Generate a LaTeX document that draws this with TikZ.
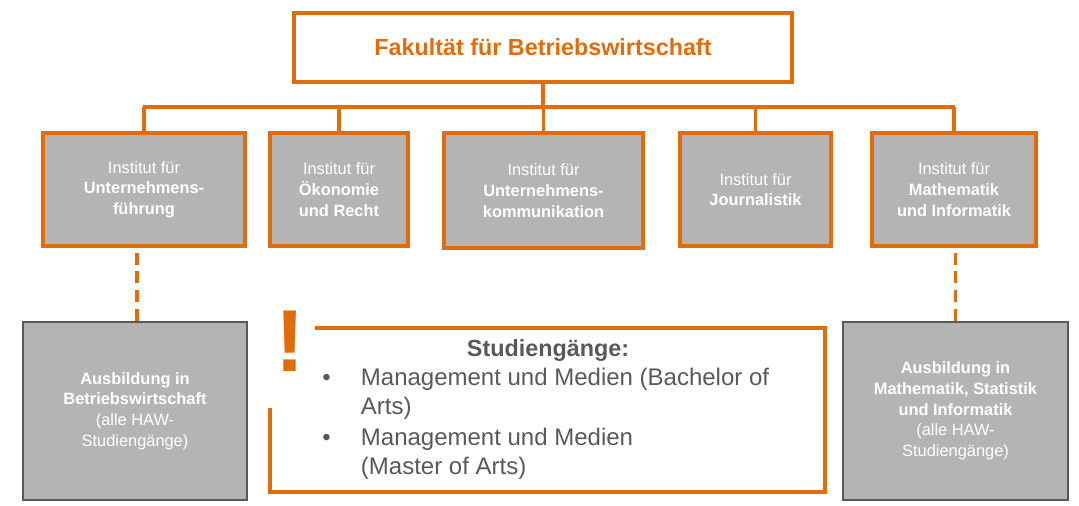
\documentclass[tikz,border=0pt]{standalone}
\usepackage{fontspec}
\setmainfont{Liberation Sans}
\usetikzlibrary{positioning}
\definecolor{hawOrange}{HTML}{E36C0A}
\definecolor{hawGray}{HTML}{B4B4B4}
\definecolor{hawText}{HTML}{595959}
\tikzset{
  institut/.style={draw=hawOrange, line width=2.4pt, fill=hawGray, text=white, align=center, font=\fontsize{12.3}{15.5}\selectfont, inner sep=0pt},
  ausbildung/.style={draw=hawText, line width=1.8pt, fill=hawGray, text=white, align=center, font=\fontsize{12.3}{15.5}\selectfont, inner sep=0pt},
  bus/.style={draw=hawOrange, line width=2.8pt},
}
\begin{document}
\begin{tikzpicture}[x=0.75pt,y=-0.75pt]
			\useasboundingbox (0,0) rectangle (1079,506);
			% Fakultaet
			\node[draw=hawOrange, line width=2.4pt, fill=white, minimum width=373.5pt, minimum height=51.75pt, text=hawOrange, font=\fontsize{17.5}{20}\selectfont\bfseries] (fak) at (543,47.5) {Fakultät für Betriebswirtschaft};

			% Institute
			\node[institut, minimum width=151.5pt, minimum height=84.75pt] (inst1) at (144,189.5) {Institut für\\\textbf{Unternehmens-}\\\textbf{führung}};
			\node[institut, minimum width=103.5pt, minimum height=84.75pt] (inst2) at (339,189.5) {Institut für\\\textbf{Ökonomie}\\\textbf{und Recht}};
			\node[institut, minimum width=149.25pt, minimum height=86.25pt] (inst3) at (543.5,190.5) {Institut für\\\textbf{Unternehmens-}\\\textbf{kommunikation}};
			\node[institut, minimum width=113.25pt, minimum height=84.75pt] (inst4) at (755.5,189.5) {Institut für\\\textbf{Journalistik}};
			\node[institut, minimum width=123pt, minimum height=84.75pt] (inst5) at (954,189.5) {Institut für\\\textbf{Mathematik}\\\textbf{und Informatik}};

			% Verbindungen
			\coordinate (busL) at (143,107);
			\coordinate (busR) at (955,107);
			\draw[bus] (busL) -- (busR);
			\draw[bus] (fak.south) -- (fak.south |- busL);
			\foreach \i in {1,...,5}
				\draw[bus] (inst\i.north |- busL) -- (inst\i.north);

			% Ausbildung
			\node[ausbildung, minimum width=168pt, minimum height=133.5pt] (ausb1) at (135,411) {\textbf{Ausbildung in}\\\textbf{Betriebswirtschaft}\\(alle HAW-\\Studiengänge)};
			\node[ausbildung, minimum width=168.75pt, minimum height=133.5pt] (ausb2) at (955.5,411) {\textbf{Ausbildung in}\\\textbf{Mathematik, Statistik}\\\textbf{und Informatik}\\(alle HAW-\\Studiengänge)};
			\draw[bus, dash pattern=on 9pt off 5pt] (ausb1.north -| 137,0) -- (137,246);
			\draw[bus, dash pattern=on 9pt off 5pt] (ausb2.north) -- (inst5.south -| ausb2.north);

			% Studiengaenge
			\draw[draw=hawOrange, line width=2.4pt] (315,328) -- (825,328) -- (825,492) -- (270,492) -- (270,408);
			\node[text=hawOrange, font=\fontsize{66}{68}\selectfont\bfseries, inner sep=0pt] (ausruf) at (290,341) {!};
			\node[text=hawText, font=\fontsize{17.5}{20}\selectfont\bfseries, inner sep=0pt] (stud) at (548,351) {Studiengänge:};
			\node[text=hawText, font=\fontsize{18}{22}\selectfont, align=left, anchor=north west, inner sep=0pt] (liste) at (322,368) {%
				\makebox[29pt][l]{\textbullet}Management und Medien (Bachelor of\\
				\hspace*{29pt}Arts)\\[1pt]
				\makebox[29pt][l]{\textbullet}Management und Medien\\
				\hspace*{29pt}(Master of Arts)};
		\end{tikzpicture}
\end{document}
